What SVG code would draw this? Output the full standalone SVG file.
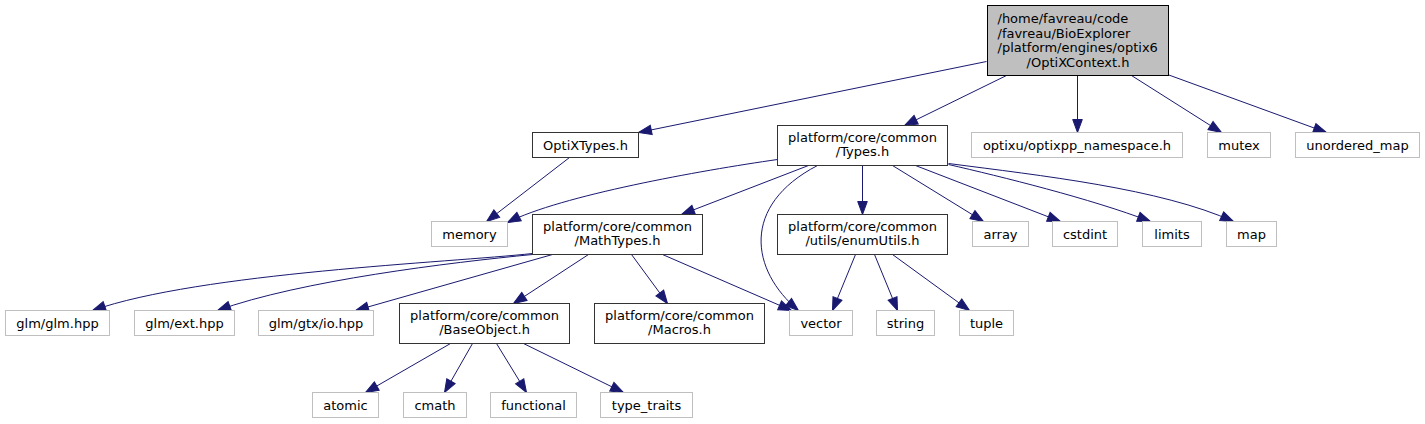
<svg xmlns="http://www.w3.org/2000/svg" width="1425" height="424" viewBox="0 0 1425 424">
<style>
text{font-family:"DejaVu Sans","Liberation Sans",sans-serif;font-size:13px;fill:#000;text-anchor:middle}
text.l{text-anchor:start}
.doc{fill:#fff;stroke:#333;stroke-width:1}
.ext{fill:#fff;stroke:#bfbfbf;stroke-width:1}
.root{fill:#bfbfbf;stroke:#000;stroke-width:1}
#edges path{fill:none;stroke:#191970;stroke-width:1;marker-end:url(#ah)}
</style>
<defs>
<marker id="ah" markerUnits="userSpaceOnUse" markerWidth="15" markerHeight="12" viewBox="-1 -6 15 12" refX="13" refY="0" orient="auto" overflow="visible">
<path d="M0,-4.8 L13,0 L0,4.8 z" fill="#191970" stroke="#191970" stroke-width="1"/>
</marker>
</defs>
<rect width="1425" height="424" fill="#fff"/>
<g transform="translate(0.5 0.5)">
<g id="edges">
<path d="M986,61 L638,132"/>
<path d="M1006,75 L904,125"/>
<path d="M1077,75 L1077,132"/>
<path d="M1131,75 L1221,132"/>
<path d="M1167,74 L1326,132"/>
<path d="M569,157 L486,221"/>
<path d="M777,159 C700,170 560,195 507,222"/>
<path d="M808,165 L681,214"/>
<path d="M817,165 C740,205 750,270 798,310"/>
<path d="M862,165 L862,214"/>
<path d="M892,165 L983,221"/>
<path d="M915,165 L1060,221"/>
<path d="M948,164 C1000,176 1090,198 1150,221"/>
<path d="M948,163 C1040,175 1160,188 1233,221"/>
<path d="M532,253 C450,262 200,272 92,310"/>
<path d="M532,254 C450,262 300,280 217,310"/>
<path d="M552,254 L355,310"/>
<path d="M588,254 L513,303"/>
<path d="M631,254 L667,303"/>
<path d="M662,254 L791,310"/>
<path d="M855,254 L832,310"/>
<path d="M874,254 L897,310"/>
<path d="M892,254 L969,310"/>
<path d="M450,343 L365,392"/>
<path d="M472,343 L444,392"/>
<path d="M496,343 L526,392"/>
<path d="M523,343 L623,392"/>
</g>
<g id="node-OptiXContext">
<rect class="root" x="987" y="5" width="181" height="70"/>
<text class="l" x="997" y="22.5">/home/favreau/code</text>
<text class="l" x="997" y="37.2">/favreau/BioExplorer</text>
<text class="l" x="997" y="51.9">/platform/engines/optix6</text>
<text x="1077.5" y="66.6">/OptiXContext.h</text>
</g>
<g id="node-OptiXTypes"><rect class="doc" x="532" y="132" width="106" height="25"/><text x="585" y="149">OptiXTypes.h</text></g>
<g id="node-Types"><rect class="doc" x="777" y="125" width="170" height="40"/><text x="862" y="141">platform/core/common</text><text x="862" y="155">/Types.h</text></g>
<g id="node-optixpp"><rect class="ext" x="971" y="132" width="211" height="25"/><text x="1076.5" y="149">optixu/optixpp_namespace.h</text></g>
<g id="node-mutex"><rect class="ext" x="1207" y="132" width="63" height="25"/><text x="1238.5" y="149">mutex</text></g>
<g id="node-unordered_map"><rect class="ext" x="1295" y="132" width="124" height="25"/><text x="1357" y="149">unordered_map</text></g>
<g id="node-memory"><rect class="ext" x="431" y="221" width="76" height="25"/><text x="469" y="238">memory</text></g>
<g id="node-MathTypes"><rect class="doc" x="532" y="214" width="170" height="40"/><text x="617" y="230">platform/core/common</text><text x="617" y="244">/MathTypes.h</text></g>
<g id="node-enumUtils"><rect class="doc" x="777" y="214" width="170" height="40"/><text x="862" y="230">platform/core/common</text><text x="862" y="244">/utils/enumUtils.h</text></g>
<g id="node-array"><rect class="ext" x="972" y="221" width="56" height="25"/><text x="1000" y="238">array</text></g>
<g id="node-cstdint"><rect class="ext" x="1052" y="221" width="65" height="25"/><text x="1084.5" y="238">cstdint</text></g>
<g id="node-limits"><rect class="ext" x="1142" y="221" width="59" height="25"/><text x="1171.5" y="238">limits</text></g>
<g id="node-map"><rect class="ext" x="1226" y="221" width="50" height="25"/><text x="1251" y="238">map</text></g>
<g id="node-glm"><rect class="ext" x="5" y="310" width="104" height="25"/><text x="57" y="327">glm/glm.hpp</text></g>
<g id="node-ext"><rect class="ext" x="134" y="310" width="100" height="25"/><text x="184" y="327">glm/ext.hpp</text></g>
<g id="node-io"><rect class="ext" x="258" y="310" width="115" height="25"/><text x="315.5" y="327">glm/gtx/io.hpp</text></g>
<g id="node-BaseObject"><rect class="doc" x="399" y="303" width="170" height="40"/><text x="484" y="319">platform/core/common</text><text x="484" y="333">/BaseObject.h</text></g>
<g id="node-Macros"><rect class="doc" x="594" y="303" width="170" height="40"/><text x="679" y="319">platform/core/common</text><text x="679" y="333">/Macros.h</text></g>
<g id="node-vector"><rect class="ext" x="789" y="310" width="63" height="25"/><text x="820.5" y="327">vector</text></g>
<g id="node-string"><rect class="ext" x="876" y="310" width="58" height="25"/><text x="905" y="327">string</text></g>
<g id="node-tuple"><rect class="ext" x="959" y="310" width="54" height="25"/><text x="986" y="327">tuple</text></g>
<g id="node-atomic"><rect class="ext" x="312" y="392" width="66" height="25"/><text x="345" y="409">atomic</text></g>
<g id="node-cmath"><rect class="ext" x="403" y="392" width="63" height="25"/><text x="434.5" y="409">cmath</text></g>
<g id="node-functional"><rect class="ext" x="490" y="392" width="86" height="25"/><text x="533" y="409">functional</text></g>
<g id="node-type_traits"><rect class="ext" x="600" y="392" width="92" height="25"/><text x="646" y="409">type_traits</text></g>
</g>
</svg>
